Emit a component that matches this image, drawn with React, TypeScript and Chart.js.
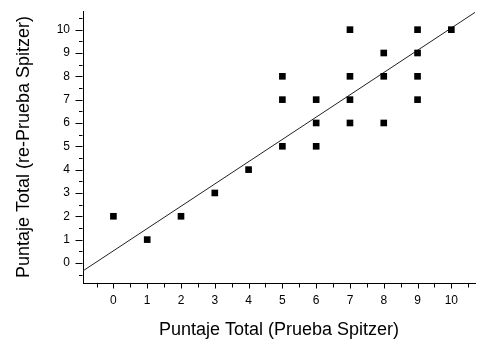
import React, { useEffect, useRef } from "react";
import { Chart, registerables } from "chart.js";

Chart.register(...registerables);

// Observed scores (Prueba Spitzer vs re-Prueba Spitzer)
const scoreX = [0, 1, 2, 3, 4, 5, 5, 5, 6, 6, 6, 7, 7, 7, 7, 8, 8, 8, 9, 9, 9, 9, 10];
const scoreY = [2, 1, 2, 3, 4, 8, 7, 5, 7, 6, 5, 10, 8, 7, 6, 9, 8, 6, 10, 9, 8, 7, 10];

// Fitted line end points
const fitX = [-0.9, 10.7];
const fitY = [-0.34, 10.74];

// Axis ranges and tick labels
const xRange = [-0.9, 10.7];
const yRange = [-0.86, 10.8];
const xTickValues = [0, 1, 2, 3, 4, 5, 6, 7, 8, 9, 10];
const yTickValues = [0, 1, 2, 3, 4, 5, 6, 7, 8, 9, 10];
const xMinorValues = [-0.5, 0.5, 1.5, 2.5, 3.5, 4.5, 5.5, 6.5, 7.5, 8.5, 9.5, 10.5];
const yMinorValues = [-0.5, 0.5, 1.5, 2.5, 3.5, 4.5, 5.5, 6.5, 7.5, 8.5, 9.5, 10.5];

const xTitle = "Puntaje Total (Prueba Spitzer)";
const yTitle = "Puntaje Total (re-Prueba Spitzer)";

const FONT = "'Liberation Sans', Arial, sans-serif";

const tickMarks = {
  id: "tickMarks",
  afterDraw(chart: any) {
    const { ctx, chartArea, scales } = chart;
    const xs = scales.x;
    const ys = scales.y;
    ctx.save();
    ctx.strokeStyle = "#000";
    ctx.lineWidth = 1;
    ctx.beginPath();
    const yb = Math.round(chartArea.bottom) + 0.5;
    xTickValues.forEach((v) => {
      const px = Math.round(xs.getPixelForValue(v)) + 0.5;
      ctx.moveTo(px, yb);
      ctx.lineTo(px, yb + 5);
    });
    xMinorValues.forEach((v) => {
      const px = Math.round(xs.getPixelForValue(v)) + 0.5;
      ctx.moveTo(px, yb);
      ctx.lineTo(px, yb + 4);
    });
    const xl = Math.round(chartArea.left) - 0.5;
    yTickValues.forEach((v) => {
      const py = Math.round(ys.getPixelForValue(v)) + 0.5;
      ctx.moveTo(xl, py);
      ctx.lineTo(xl - 7, py);
    });
    yMinorValues.forEach((v) => {
      const py = Math.round(ys.getPixelForValue(v)) + 0.5;
      ctx.moveTo(xl, py);
      ctx.lineTo(xl - 3.5, py);
    });
    ctx.stroke();
    ctx.restore();
  },
};

export default function App() {
  const canvasRef = useRef<HTMLCanvasElement | null>(null);

  useEffect(() => {
    if (!canvasRef.current) return;
    const chart = new Chart(canvasRef.current, {
      type: "scatter",
      data: {
        datasets: [
          {
            type: "scatter",
            data: scoreX.map((x, i) => ({ x, y: scoreY[i] })),
            backgroundColor: "#000",
            borderWidth: 0,
            pointStyle: "rect",
            pointRadius: 4.7,
            order: 0,
          },
          {
            type: "line",
            data: fitX.map((x, i) => ({ x, y: fitY[i] })),
            borderColor: "#222",
            borderWidth: 1,
            pointRadius: 0,
            fill: false,
            order: 1,
          } as any,
        ],
      },
      plugins: [tickMarks],
      options: {
        responsive: false,
        animation: false,
        events: [],
        layout: { autoPadding: false, padding: { left: 0, right: 2, top: 11, bottom: 0 } },
        plugins: {
          legend: { display: false },
          tooltip: { enabled: false },
        },
        scales: {
          x: {
            type: "linear",
            min: xRange[0],
            max: xRange[1],
            afterBuildTicks: (scale: any) => {
              scale.ticks = xTickValues.map((v) => ({ value: v }));
            },
            afterFit: (scale: any) => {
              scale.height = 56;
              scale.paddingLeft = 0;
              scale.paddingRight = 0;
            },
            grid: { display: false, drawTicks: false },
            border: { display: true, color: "#000", width: 1 },
            ticks: {
              padding: 10,
              color: "#000",
              font: { family: FONT, size: 12 },
              maxRotation: 0,
              autoSkip: false,
              callback: (v: any) => String(v),
            },
            title: {
              display: true,
              text: xTitle,
              color: "#000",
              font: { family: FONT, size: 18, lineHeight: 1.0 },
              padding: { top: 0, bottom: 0 },
            },
          },
          y: {
            type: "linear",
            min: yRange[0],
            max: yRange[1],
            afterBuildTicks: (scale: any) => {
              scale.ticks = yTickValues.map((v) => ({ value: v }));
            },
            afterFit: (scale: any) => {
              scale.width = 83;
              scale.paddingTop = 0;
              scale.paddingBottom = 0;
            },
            grid: { display: false, drawTicks: false },
            border: { display: true, color: "#000", width: 1 },
            ticks: {
              padding: 13,
              color: "#000",
              font: { family: FONT, size: 12 },
              autoSkip: false,
              callback: (v: any) => String(v),
            },
            title: {
              display: true,
              text: yTitle,
              color: "#000",
              font: { family: FONT, size: 18 },
              padding: { top: 13, bottom: 0 },
            },
          },
        },
      },
    });
    return () => chart.destroy();
  }, []);

  return (
    <div style={{ position: "absolute", left: 0, top: 0, width: 477, height: 339, background: "#fff" }}>
      <canvas ref={canvasRef} width={477} height={339} />
    </div>
  );
}
